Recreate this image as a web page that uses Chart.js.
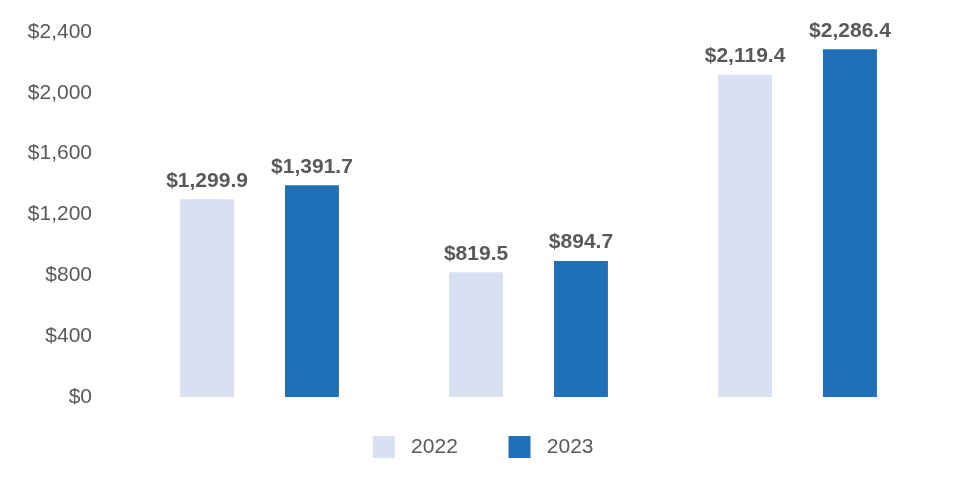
<!DOCTYPE html>
<html>
<head>
<meta charset="utf-8">
<script src="https://cdn.jsdelivr.net/npm/chart.js@4/dist/chart.umd.min.js"></script>
<style>
    body { margin: 0; background: #fff; }
    #wrap { width: 960px; height: 500px; }
</style>
</head>
<body>
<div id="wrap"><canvas id="revenueChart"></canvas></div>
<script>
// Chart data
const categories = ['', '', ''];
const seriesNames = ['2022', '2023'];
const values2022 = [1299.9, 819.5, 2119.4];
const values2023 = [1391.7, 894.7, 2286.4];
const yTicks = [0, 400, 800, 1200, 1600, 2000, 2400];

const textColor = '#595959';
const fontFamily = '"Liberation Sans", Arial, sans-serif';

// Format as dollars
function money(v, decimals) {
    return '$' + v.toLocaleString('en-US', {
        minimumFractionDigits: decimals,
        maximumFractionDigits: decimals
    });
}

// Value labels above each bar
const barLabels = {
    id: 'barLabels',
    afterDatasetsDraw(chart) {
        const ctx = chart.ctx;
        ctx.save();
        ctx.fillStyle = textColor;
        ctx.font = 'bold 21px ' + fontFamily;
        ctx.textAlign = 'center';
        ctx.textBaseline = 'bottom';
        chart.data.datasets.forEach((ds, i) => {
            chart.getDatasetMeta(i).data.forEach((bar, j) => {
                ctx.fillText(money(ds.data[j], 1), bar.x, bar.y - 8);
            });
        });
        ctx.restore();
    }
};

// Nudge the legend a bit to the right
const legendShift = {
    id: 'legendShift',
    afterLayout(chart) {
        if (chart.legend) {
            chart.legend.left += 23;
            chart.legend.right += 23;
        }
    }
};

new Chart(document.getElementById('revenueChart'), {
    type: 'bar',
    data: {
        labels: categories,
        datasets: [{
            label: seriesNames[0],
            data: values2022,
            backgroundColor: '#d9e0f1'
        }, {
            label: seriesNames[1],
            data: values2023,
            backgroundColor: '#1f70b8'
        }]
    },
    options: {
        responsive: true,
        maintainAspectRatio: false,
        animation: false,
        categoryPercentage: 0.78,
        barPercentage: 0.514,
        layout: {
            padding: { top: 32, right: 28, bottom: 32, left: 0 }
        },
        plugins: {
            legend: {
                position: 'bottom',
                labels: {
                    boxWidth: 22,
                    boxHeight: 22,
                    padding: 39,
                    color: textColor,
                    font: { family: fontFamily, size: 21 },
                    // a little extra room around the legend text
                    generateLabels: function(chart) {
                        const items = Chart.defaults.plugins.legend.labels.generateLabels(chart);
                        items.forEach(item => { item.text = ' ' + item.text + '  '; });
                        return items;
                    }
                }
            },
            tooltip: { enabled: false }
        },
        scales: {
            x: {
                display: false
            },
            y: {
                min: 0,
                max: 2400,
                afterBuildTicks: function(scale) {
                    scale.ticks = yTicks.map(v => ({ value: v }));
                },
                afterFit: function(scale) {
                    scale.width = 125;
                    scale.paddingTop = 10;
                    scale.paddingBottom = 10;
                },
                grid: { display: false, drawTicks: false },
                border: { display: false },
                ticks: {
                    padding: 33,
                    color: textColor,
                    font: { family: fontFamily, size: 21 },
                    callback: v => money(v, 0)
                }
            }
        }
    },
    plugins: [barLabels, legendShift]
});
</script>
</body>
</html>
